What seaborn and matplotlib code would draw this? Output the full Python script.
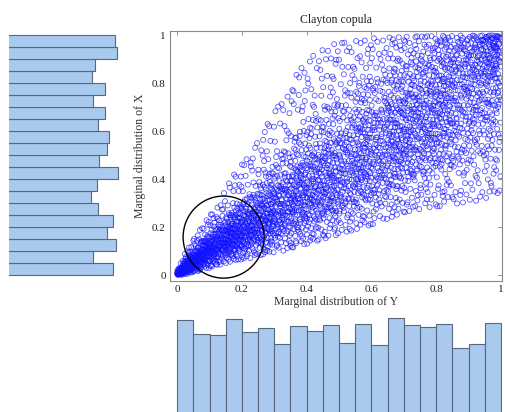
import numpy as np
import pandas as pd
import matplotlib
matplotlib.use("Agg")
import matplotlib.pyplot as plt
from matplotlib.patches import Ellipse
import seaborn as sns

# ---------------- data ----------------
# bottom histogram: counts per bin of the horizontal variable (bins 0-0.05 ... 0.95-1)
x_counts = [162, 148, 147, 163, 150, 154, 138, 156, 151, 157,
            139, 158, 137, 164, 157, 155, 158, 134, 138, 159]
# left histogram: counts per bin of the vertical variable, listed top (0.95-1) to bottom (0-0.05)
y_counts_top_down = [162, 164, 142, 139, 152, 140, 152, 145, 156, 154,
                     146, 165, 144, 138, 145, 160, 154, 163, 140, 160]

# estimated conditional quantiles of the vertical value, read column by column off the cloud
q_levels = [0.01, 0.10, 0.25, 0.50, 0.75, 0.90, 0.99]
q_x = [0.0, 0.025, 0.075, 0.125, 0.175, 0.225, 0.275, 0.325, 0.375, 0.425, 0.475,
       0.525, 0.575, 0.625, 0.675, 0.725, 0.775, 0.825, 0.875, 0.925, 0.975, 1.0]
q_table = [
    [0.000, 0.001, 0.002, 0.004, 0.007, 0.010, 0.020],
    [0.003, 0.010, 0.018, 0.030, 0.045, 0.060, 0.090],
    [0.020, 0.040, 0.060, 0.085, 0.110, 0.140, 0.200],
    [0.040, 0.070, 0.100, 0.130, 0.170, 0.210, 0.290],
    [0.060, 0.100, 0.130, 0.170, 0.220, 0.270, 0.420],
    [0.070, 0.120, 0.160, 0.210, 0.270, 0.340, 0.500],
    [0.090, 0.140, 0.190, 0.250, 0.330, 0.420, 0.620],
    [0.100, 0.165, 0.225, 0.300, 0.390, 0.510, 0.730],
    [0.120, 0.190, 0.260, 0.350, 0.460, 0.600, 0.850],
    [0.140, 0.220, 0.290, 0.390, 0.510, 0.670, 0.920],
    [0.160, 0.250, 0.320, 0.430, 0.560, 0.720, 0.960],
    [0.180, 0.270, 0.350, 0.470, 0.610, 0.770, 0.970],
    [0.200, 0.300, 0.390, 0.510, 0.650, 0.800, 0.980],
    [0.220, 0.330, 0.420, 0.550, 0.690, 0.830, 0.990],
    [0.250, 0.360, 0.460, 0.590, 0.730, 0.860, 0.990],
    [0.270, 0.400, 0.500, 0.630, 0.770, 0.890, 0.995],
    [0.280, 0.420, 0.530, 0.660, 0.800, 0.910, 0.995],
    [0.290, 0.440, 0.560, 0.700, 0.840, 0.930, 0.997],
    [0.300, 0.460, 0.590, 0.740, 0.870, 0.950, 0.998],
    [0.310, 0.480, 0.620, 0.780, 0.900, 0.965, 0.998],
    [0.330, 0.500, 0.660, 0.830, 0.930, 0.980, 0.999],
    [0.350, 0.520, 0.690, 0.860, 0.950, 0.990, 1.000],
]

title = "Clayton copula"
xlabel = "Marginal distribution of Y"
ylabel = "Marginal distribution of X"
tick_values = [0, 0.2, 0.4, 0.6, 0.8, 1]
tick_labels = ["0", "0.2", "0.4", "0.6", "0.8", "1"]

# ---------------- build the point cloud from the estimates ----------------
n_bins = len(x_counts)
edges = np.linspace(0, 1, n_bins + 1)
q_tab = np.array(q_table)
q_xa = np.array(q_x)


def radical_inverse(i, base):
    f, r = 1.0, 0.0
    while i > 0:
        f /= base
        r += f * (i % base)
        i //= base
    return r


# horizontal marginal follows the bottom histogram (piecewise-linear CDF)
cdf = np.concatenate([[0.0], np.cumsum(x_counts)]) / np.sum(x_counts)
n_total = int(np.sum(x_counts))
xs, ys = [], []
for j in range(n_total):
    a = radical_inverse(j + 37, 2)
    b = radical_inverse(j + 37, 3)
    xx = np.interp(a, cdf, edges)
    row = np.array([np.interp(xx, q_xa, q_tab[:, c]) for c in range(len(q_levels))])
    xs.append(xx)
    ys.append(np.interp(b, q_levels, row))
cloud = pd.DataFrame({"u": xs, "v": ys})

centers = (edges[:-1] + edges[1:]) / 2
bottom_df = pd.DataFrame({"c": centers, "w": np.array(x_counts, dtype=float)})
left_df = pd.DataFrame({"c": centers[::-1], "w": np.array(y_counts_top_down, dtype=float)})

# ---------------- figure ----------------
sns.set_style("white")
plt.rcParams["font.family"] = ["Liberation Serif", "DejaVu Serif"]
W, H = 506, 412
fig = plt.figure(figsize=(W / 100, H / 100), dpi=100)

def px_axes(l, t, r, b):
    return fig.add_axes([l / W, 1 - b / H, (r - l) / W, (b - t) / H])

xlim = (-0.022, 1.003)
ylim = (-0.025, 1.017)

ax = px_axes(170, 31, 502, 281)
sns.scatterplot(data=cloud, x="u", y="v", ax=ax, marker="o", s=13, facecolor="none",
                edgecolor="#1010ff", linewidth=0.6, alpha=0.7, legend=False)
ax.add_patch(Ellipse((0.1435, 0.158), 0.25, 0.342, fill=False,
                     edgecolor="black", linewidth=1.0, zorder=5))
ax.set_xlim(*xlim)
ax.set_ylim(*ylim)
ax.set_xticks(tick_values)
ax.set_xticklabels(tick_labels)
ax.set_yticks(tick_values)
ax.set_yticklabels(tick_labels)
ax.tick_params(direction="in", length=3, width=0.6, color="#808080",
               top=True, right=True, labelsize=8, pad=3, labelcolor="#222222")
for sp in ax.spines.values():
    sp.set_color("#8a8a8a")
    sp.set_linewidth(0.8)
ax.set_title(title, fontsize=8.5, pad=6, color="#222222")
ax.set_xlabel(xlabel, fontsize=8.5, labelpad=1, color="#333333")
ax.set_ylabel(ylabel, fontsize=8.5, labelpad=4, color="#333333")

fill = "#a9c9ef"
edge = "#56687f"

# left histogram (vertical variable)
axl = px_axes(9, 31, 135, 281)
sns.histplot(data=left_df, y="c", weights="w", bins=n_bins, binrange=(0, 1), ax=axl,
             color=fill, edgecolor=edge, linewidth=0.8, alpha=1.0)
axl.set_ylim(*ylim)
axl.set_xlim(56, 56 + 126)
axl.set_axis_off()

# bottom histogram (horizontal variable)
axb = px_axes(170, 305, 502, 412)
sns.histplot(data=bottom_df, x="c", weights="w", bins=n_bins, binrange=(0, 1), ax=axb,
             color=fill, edgecolor=edge, linewidth=0.8, alpha=1.0)
axb.set_xlim(*xlim)
axb.set_ylim(70, 70 + 107)
axb.set_axis_off()

fig.savefig("out.png", dpi=100)
